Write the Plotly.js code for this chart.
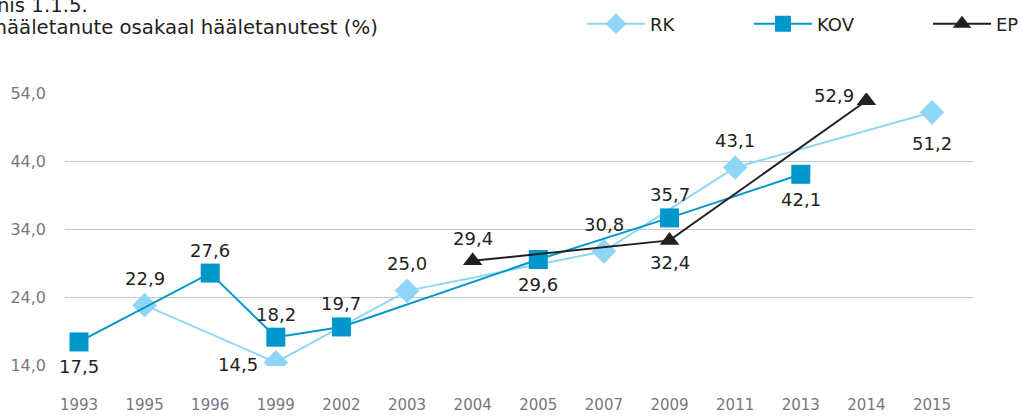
<!DOCTYPE html>
<html>
<head>
<meta charset="utf-8">
<script src="https://cdn.plot.ly/plotly-3.0.1.min.js"></script>
<style>html,body{margin:0;padding:0;background:#fff;}#chart{width:1024px;height:416px;}</style>
</head>
<body>
<div id="chart"></div>
<script>
var years = ['1993','1995','1996','1999','2002','2003','2004','2005','2007','2009','2011','2013','2014','2015'];
var rk  = [null, 22.9, null, 14.5, null, 25.0, null, null, 30.8, null, 43.1, null, null, 51.2];
var kov = [17.5, null, 27.6, 18.2, 19.7, null, null, 29.6, null, 35.7, null, 42.1, null, null];
var ep  = [null, null, null, null, null, null, 29.4, null, null, 32.4, null, null, 52.9, null];
// label placement per point: t = above, b = below, l = left, tl = upper left
var rkPos  = ['', 't', '', 'l', '', 't', '', '', 't', '', 't', '', '', 'b'];
var kovPos = ['b', '', 't', 't', 't', '', '', 'b', '', 't', '', 'b', '', ''];
var epPos  = ['', '', '', '', '', '', 't', '', '', 'b', '', '', 'tl', ''];
var yTicks = [14, 24, 34, 44, 54];
var titleLines = ['Joonis 1.1.5.', 'E-hääletanute osakaal hääletanutest (%)'];

var FONT = 'DejaVu Sans, sans-serif';
var INK = '#231f20';

// pixel helpers for a 1024x416 page with margins l=65, r=49, t=0, b=50
var PL = 65, PW = 910, PH = 366;
function px(x) { return (x - PL) / PW; }
function py(y) { return 1 - y / PH; }

function mk(name, vals, color, symbol, size, legendId) {
  return {
    type: 'scatter', mode: 'lines+markers', name: name, legend: legendId,
    x: years, y: vals, connectgaps: true,
    line: {color: color, width: 2},
    marker: {symbol: symbol, size: size, color: color}
  };
}

var data = [
  mk('RK', rk, '#8fd6f6', 'diamond', 19, 'legend'),
  mk('KOV', kov, '#0097cc', 'square', 19, 'legend2'),
  mk('EP', ep, INK, 'triangle-up', 17, 'legend3')
];

// value labels, placed by category index; offsets (px) by series marker: [above, below]
function labels(vals, pos, up, down) {
  var out = [];
  for (var i = 0; i < vals.length; i++) {
    if (vals[i] === null) continue;
    var dx = 0, dy = 0, p = pos[i];
    if (p === 't') dy = up;
    else if (p === 'b') dy = -down;
    else if (p === 'l') { dx = -38; dy = -2; }
    else if (p === 'tl') { dx = -32; dy = 5; }
    out.push({
      x: i, y: vals[i], xref: 'x', yref: 'y', showarrow: false,
      text: vals[i].toFixed(1).replace('.', ','),
      xanchor: 'center', yanchor: 'middle', xshift: dx, yshift: dy,
      font: {family: FONT, size: 18, color: INK}
    });
  }
  return out;
}

function leg(x) {
  return {orientation: 'h', x: px(x), xanchor: 'left', y: py(24), yanchor: 'middle',
          font: {family: FONT, size: 18, color: INK}, itemwidth: 58,
          bgcolor: 'rgba(0,0,0,0)', borderwidth: 0};
}

var annotations = []
  .concat(labels(rk, rkPos, 27, 31))
  .concat(labels(kov, kovPos, 23, 25))
  .concat(labels(ep, epPos, 22, 22));

annotations.push(
  {text: titleLines[0], xref: 'paper', yref: 'paper', x: px(90), xanchor: 'right',
   y: py(5), yanchor: 'middle', showarrow: false,
   font: {family: FONT, size: 19.7, color: INK}},
  {text: titleLines[1], xref: 'paper', yref: 'paper', x: px(380), xanchor: 'right',
   y: py(28), yanchor: 'middle', showarrow: false,
   font: {family: FONT, size: 19.7, color: INK}}
);

var layout = {
  width: 1024, height: 416,
  margin: {l: PL, r: 49, t: 0, b: 50},
  separators: ', ',
  paper_bgcolor: '#fff', plot_bgcolor: '#fff',
  showlegend: true,
  legend: leg(582), legend2: leg(749), legend3: leg(929),
  xaxis: {type: 'category', range: [-0.213, 13.64], showgrid: false, zeroline: false,
          showline: false, ticks: '', tickfont: {family: FONT, size: 15, color: '#77787b'},
          ticklabelstandoff: 28, fixedrange: true},
  yaxis: {domain: [0, (PH - 93) / PH], range: [13.97, 54.03], tickvals: yTicks, tickformat: '.1f',
          showgrid: true, gridcolor: '#c6c6c6', gridwidth: 1, zeroline: false, showline: false,
          ticks: '', tickfont: {family: FONT, size: 16, color: '#77787b'},
          ticklabelstandoff: 18, fixedrange: true},
  annotations: annotations
};

Plotly.newPlot('chart', data, layout, {displayModeBar: false, staticPlot: true});
</script>
</body>
</html>
